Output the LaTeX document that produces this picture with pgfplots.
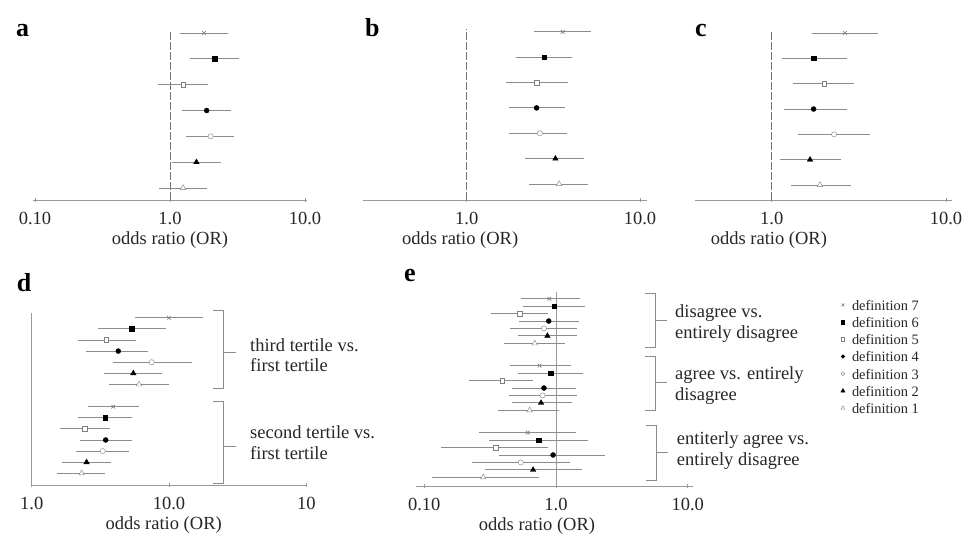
\documentclass[border=0pt]{standalone}
\usepackage{fontspec}
\setmainfont{Liberation Serif}
\usepackage{pgfplots}
\usepackage{pgfplotstable}
\pgfplotsset{compat=1.18}

\newcommand{\lab}{\fontsize{18.5}{21}\selectfont}
\newcommand{\leg}{\fontsize{14.4}{16}\selectfont}
\newcommand{\pan}{\fontsize{26}{28}\selectfont\bfseries}

% odds ratios with 95% CI, rows counted from the bottom
\pgfplotstableread{
row def or lo hi
7 d7 1.79 1.19 2.69
6 d6 2.14 1.41 3.24
5 d5 1.25 0.81 1.90
4 d4 1.87 1.22 2.83
3 d3 2.00 1.31 3.00
2 d2 1.57 1.03 2.37
1 d1 1.25 0.83 1.87
}\dataA
\pgfplotstableread{
row def or lo hi
7 d7 3.58 2.45 5.19
6 d6 2.80 1.92 4.07
5 d5 2.53 1.69 3.86
4 d4 2.53 1.75 3.69
3 d3 2.64 1.76 3.81
2 d2 3.25 2.17 4.77
1 d1 3.41 2.29 4.99
}\dataB
\pgfplotstableread{
row def or lo hi
7 d7 2.63 1.71 4.06
6 d6 1.74 1.14 2.69
5 d5 2.00 1.33 2.97
4 d4 1.74 1.17 2.72
3 d3 2.28 1.42 3.65
2 d2 1.66 1.12 2.49
1 d1 1.89 1.29 2.84
}\dataC
\pgfplotstableread{
row def or lo hi
15 d7 10.0 5.65 17.6
14 d6 5.35 3.05 9.46
13 d5 3.48 2.19 5.72
12 d4 4.27 2.47 7.07
11 d3 7.48 3.93 14.6
10 d2 5.50 3.38 8.85
9  d1 6.04 3.66 10.0
7  d7 3.93 2.58 6.04
6  d6 3.42 2.19 5.35
5  d5 2.44 1.61 3.72
4  d4 3.46 2.25 5.41
3  d3 3.29 2.10 5.14
2  d2 2.51 1.65 3.76
1  d1 2.31 1.54 3.44
}\dataD
\pgfplotstableread{
row def or lo hi
25 d7 0.89 0.54 1.52
24 d6 0.97 0.56 1.66
23 d5 0.53 0.32 0.87
22 d4 0.88 0.52 1.50
21 d3 0.81 0.45 1.44
20 d2 0.86 0.51 1.45
19 d1 0.69 0.40 1.17
16 d7 0.75 0.45 1.30
15 d6 0.91 0.51 1.59
14 d5 0.39 0.22 0.67
13 d4 0.81 0.46 1.42
12 d3 0.79 0.44 1.44
11 d2 0.77 0.46 1.32
10 d1 0.63 0.36 1.06
7  d7 0.61 0.26 1.41
6  d6 0.74 0.31 1.74
5  d5 0.35 0.134 0.87
4  d4 0.95 0.37 2.36
3  d3 0.54 0.23 1.28
2  d2 0.67 0.29 1.58
1  d1 0.28 0.115 0.74
}\dataE

\pgfplotsset{
  forestaxis/.style={
    scale only axis, clip=false, anchor=south west,
    axis x line*=bottom, axis y line=none, ytick=\empty,
    axis line style={black!40, line width=0.8pt},
    xtick style={black!40, line width=0.8pt},
    major tick length=4pt, tick align=center, xminorticks=false,
    xticklabel style={font=\lab, anchor=base, inner sep=0pt, yshift=-22.7pt, text=black!85},
    xlabel={odds ratio (OR)},
    xlabel style={font=\lab, anchor=base, inner sep=0pt, yshift=-44pt, text=black!85},
  },
  refdash/.style={forget plot, black!55, line width=0.9pt, dash pattern=on 8pt off 2pt},
  refsolid/.style={forget plot, black!40, line width=0.8pt},
  ci/.style={forget plot, no marks, black!45, line width=0.9pt},
  d7/.style={forget plot, only marks, mark=x, draw=black!50, mark size=2.6pt, line width=0.7pt},
  d6/.style={forget plot, only marks, mark=square*, draw=black, fill=black, mark size=2.2pt},
  d5/.style={forget plot, only marks, mark=square*, draw=black!50, fill=white, mark size=2.3pt},
  d4/.style={forget plot, only marks, mark=*, draw=black, fill=black, mark size=2.5pt},
  d3/.style={forget plot, only marks, mark=*, draw=black!50, fill=white, mark size=2.6pt},
  d2/.style={forget plot, only marks, mark=triangle*, draw=black, fill=black, mark size=3.2pt},
  d1/.style={forget plot, only marks, mark=triangle*, draw=black!50, fill=white, mark size=3.2pt},
}

% CI line and marker for every row of a table (#1), rows 0..#2
\newcommand{\forestrows}[2]{%
  \pgfplotsforeachungrouped \k in {0,...,#2}{%
    \pgfplotstablegetelem{\k}{row}\of#1\let\yy\pgfplotsretval
    \pgfplotstablegetelem{\k}{lo}\of#1\let\xlo\pgfplotsretval
    \pgfplotstablegetelem{\k}{hi}\of#1\let\xhi\pgfplotsretval
    \edef\cmd{\noexpand\addplot[ci] coordinates {(\xlo,\yy) (\xhi,\yy)};}\cmd
  }%
  \pgfplotsforeachungrouped \k in {0,...,#2}{%
    \pgfplotstablegetelem{\k}{row}\of#1\let\yy\pgfplotsretval
    \pgfplotstablegetelem{\k}{or}\of#1\let\xmid\pgfplotsretval
    \pgfplotstablegetelem{\k}{def}\of#1\let\mydef\pgfplotsretval
    \edef\cmd{\noexpand\addplot[\mydef] coordinates {(\xmid,\yy)};}\cmd
  }%
}

\begin{document}
\begin{tikzpicture}
\useasboundingbox (0pt,0pt) rectangle (971pt,-533pt);

% a
\begin{semilogxaxis}[forestaxis, at={(33pt,-200pt)}, width=274pt, height=170pt,
  xmin=0.0966, xmax=10.35, ymin=0.535, ymax=7.116,
  xtick={0.1,1,10}, xticklabels={0.10,1.0,10.0},
  xlabel style={at={(axis description cs:0.5,0)}}]
\addplot[refdash] coordinates {(1,0.535) (1,7.116)};
\forestrows{\dataA}{6}
\end{semilogxaxis}

% b
\begin{semilogxaxis}[forestaxis, at={(363pt,-200pt)}, width=284pt, height=170.7pt,
  xmin=0.252, xmax=10.97, ymin=0.368, ymax=7.1,
  xtick={1,10}, xticklabels={1.0,10.0},
  xlabel style={at={(axis description cs:0.342,0)}}]
\addplot[refdash] coordinates {(1,0.368) (1,7.1)};
\forestrows{\dataB}{6}
\end{semilogxaxis}

% c
\begin{semilogxaxis}[forestaxis, at={(695pt,-200pt)}, width=256.7pt, height=170pt,
  xmin=0.363, xmax=10.79, ymin=0.408, ymax=7.12,
  xtick={1,10}, xticklabels={1.0,10.0},
  xlabel style={at={(axis description cs:0.288,0)}}]
\addplot[refdash] coordinates {(1,0.408) (1,7.12)};
\forestrows{\dataC}{6}
\end{semilogxaxis}

% d
\begin{semilogxaxis}[forestaxis, at={(31.7pt,-485pt)}, width=275pt, height=171.7pt,
  xmin=1, xmax=100.7, ymin=-0.05, ymax=15.4,
  xtick={1,10,100}, xticklabels={1.0,10.0,10},
  xlabel style={at={(axis description cs:0.48,0)}}]
\addplot[refsolid] coordinates {(1,-0.05) (1,15.4)};
\forestrows{\dataD}{13}
\end{semilogxaxis}

% e
\begin{semilogxaxis}[forestaxis, at={(416pt,-486pt)}, width=277pt, height=194.3pt,
  xmin=0.0865, xmax=10.96, ymin=-0.17, ymax=25.94,
  xtick={0.1,1,10}, xticklabels={0.10,1.0,10.0},
  xlabel style={at={(axis description cs:0.437,0)}},
  legend style={at={(axis description cs:1.533,0.962)}, anchor=north west,
    draw=none, fill=none, inner sep=0pt, font=\leg, row sep=0pt, column sep=7pt,
    nodes={inner sep=0pt, text height=11pt, text depth=6.2pt, text=black!85}},
  legend cell align=left,
  legend image code/.code={\draw[#1] plot coordinates {(0pt,3pt)};}]
\addplot[refsolid] coordinates {(1,-0.17) (1,25.94)};
\forestrows{\dataE}{20}
\addlegendimage{only marks, mark=x, draw=black!50, mark size=2pt, line width=0.6pt}
\addlegendentry{definition 7}
\addlegendimage{only marks, mark=square*, draw=black, fill=black, mark size=1.7pt}
\addlegendentry{definition 6}
\addlegendimage{only marks, mark=square*, draw=black!50, fill=white, mark size=1.7pt}
\addlegendentry{definition 5}
\addlegendimage{only marks, mark=*, draw=black, fill=black, mark size=1.8pt}
\addlegendentry{definition 4}
\addlegendimage{only marks, mark=*, draw=black!50, fill=white, mark size=1.9pt}
\addlegendentry{definition 3}
\addlegendimage{only marks, mark=triangle*, draw=black, fill=black, mark size=2.4pt}
\addlegendentry{definition 2}
\addlegendimage{only marks, mark=triangle*, draw=black!50, fill=white, mark size=2.4pt}
\addlegendentry{definition 1}
\end{semilogxaxis}

\begin{scope}[x=1pt, y=-1pt]
% panel letters
\node[anchor=base west, inner sep=0pt, font=\pan] at (16,36.7) {a};
\node[anchor=base west, inner sep=0pt, font=\pan] at (365,36.7) {b};
\node[anchor=base west, inner sep=0pt, font=\pan] at (695,36) {c};
\node[anchor=base west, inner sep=0pt, font=\pan] at (16.7,291) {d};
\node[anchor=base west, inner sep=0pt, font=\pan] at (404,281.7) {e};
% brackets
\begin{scope}[black!45, line width=0.8pt]
\draw (213.3,310) -- (223.3,310) -- (223.3,388.3) -- (213.3,388.3);
\draw (223.3,352) -- (235.7,352);
\draw (213.3,401) -- (223.3,401) -- (223.3,483.3) -- (213.3,483.3);
\draw (223.3,446.7) -- (235.7,446.7);
\draw (645,293.3) -- (655,293.3) -- (655,347.3) -- (645,347.3);
\draw (655,320.7) -- (666.7,320.7);
\draw (645,356) -- (655,356) -- (655,410) -- (645,410);
\draw (655,382.7) -- (666.7,382.7);
\draw (646,425) -- (656,425) -- (656,480) -- (646,480);
\draw (656,452.3) -- (667.7,452.3);
\end{scope}
% group labels
\begin{scope}[every node/.style={anchor=base west, inner sep=0pt, font=\lab, text=black!85}]
\node at (250,351.7) {third tertile vs.};
\node at (250,371.7) {first tertile};
\node at (250,438.3) {second tertile vs.};
\node at (250,459.3) {first tertile};
\node at (675,317.7) {disagree vs.};
\node at (675,338.3) {entirely disagree};
\node at (675,379.3) {agree vs. entirely};
\node at (675,400) {disagree};
\node at (676.7,444.3) {entiterly agree vs.};
\node at (676.7,465) {entirely disagree};
\end{scope}
\end{scope}
\end{tikzpicture}
\end{document}
